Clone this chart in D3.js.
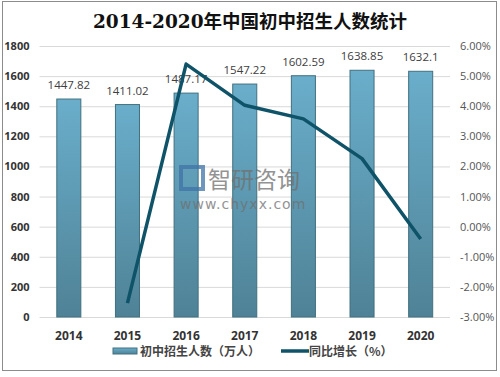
<!DOCTYPE html>
<html>
<head>
<meta charset="utf-8">
<script src="https://cdn.jsdelivr.net/npm/d3@7"></script>
<style>
  body { margin: 0; background: #fff; }
  svg { display: block; }
</style>
</head>
<body>
<svg id="chart" width="500" height="377"></svg>
<script>
const years = ["2014", "2015", "2016", "2017", "2018", "2019", "2020"];
const enrol = [1447.82, 1411.02, 1487.17, 1547.22, 1602.59, 1638.85, 1632.1];
const enrolLabels = ["1447.82", "1411.02", "1487.17", "1547.22", "1602.59", "1638.85", "1632.1"];
// year-on-year growth, % (no value for 2014)
const growth = [null, -2.54, 5.40, 4.03, 3.58, 2.26, -0.41];
const leftTicks = [0, 200, 400, 600, 800, 1000, 1200, 1400, 1600, 1800];
const rightTicks = [-3, -2, -1, 0, 1, 2, 3, 4, 5, 6];

const svg = d3.select("#chart");
const margin = {top: 46, right: 50, bottom: 60, left: 39.5};
const width = +svg.attr("width"), height = +svg.attr("height");

// outer frame
svg.append("rect")
  .attr("x", 2.5).attr("y", 1.5)
  .attr("width", 494).attr("height", 369)
  .attr("fill", "none").attr("stroke", "#8c8c8c").attr("stroke-width", 1);

svg.append("text")
  .attr("x", 250).attr("y", 28)
  .attr("text-anchor", "middle")
  .attr("font-family", "'DejaVu Serif', 'Noto Sans CJK SC', serif")
  .attr("font-size", 18.5)
  .attr("font-weight", "bold")
  .attr("fill", "#111")
  .text("2014-2020年中国初中招生人数统计");

x = d3.scaleBand()
  .domain(years)
  .range([margin.left, width - margin.right])
  .paddingInner(0.59).paddingOuter(0.295);

y = d3.scaleLinear().domain([0, 1800]).range([317, 46]);
y2 = d3.scaleLinear().domain([-3, 6]).range([317, 46]);

// gridlines
svg.append("g")
  .selectAll("line")
  .data(leftTicks)
  .enter().append("line")
  .attr("x1", margin.left).attr("x2", width - margin.right)
  .attr("y1", d => y(d) + 0.5).attr("y2", d => y(d) + 0.5)
  .attr("stroke", "#d9d9d9").attr("stroke-width", 1);

const defs = svg.append("defs");
const grad = defs.append("linearGradient")
  .attr("id", "barGrad").attr("x1", 0).attr("x2", 0).attr("y1", 0).attr("y2", 1);
grad.append("stop").attr("offset", "0%").attr("stop-color", "#6aaecb");
grad.append("stop").attr("offset", "100%").attr("stop-color", "#4f8296");

// bars
svg.append("g")
  .selectAll("rect")
  .data(enrol)
  .enter().append("rect")
  .attr("x", (d, i) => x(years[i]))
  .attr("y", d => y(d))
  .attr("width", x.bandwidth())
  .attr("height", d => y(0) - y(d))
  .attr("fill", "url(#barGrad)")
  .attr("stroke", "#41707f")
  .attr("stroke-width", 1);

// bar value labels
svg.append("g")
  .selectAll("text")
  .data(enrol)
  .enter().append("text")
  .attr("x", (d, i) => x(years[i]) + x.bandwidth() / 2)
  .attr("y", d => y(d) - 10)
  .attr("text-anchor", "middle")
  .attr("font-family", "'Open Sans', 'Noto Sans', sans-serif")
  .attr("font-size", 11.5)
  .attr("fill", "#404040")
  .text((d, i) => enrolLabels[i]);

// watermark
const wm = svg.append("g").attr("opacity", 0.75);
wm.append("rect").attr("x", 181).attr("y", 167).attr("width", 22).attr("height", 22)
  .attr("fill", "none").attr("stroke", "#3f73a8").attr("stroke-width", 4);
wm.append("text")
  .attr("x", 208).attr("y", 188)
  .attr("font-family", "'Noto Sans CJK SC', sans-serif")
  .attr("font-size", 23)
  .attr("fill", "#707070")
  .text("智研咨询");
wm.append("text")
  .attr("x", 180).attr("y", 209)
  .attr("font-family", "'DejaVu Sans', sans-serif")
  .attr("font-size", 14)
  .attr("letter-spacing", 1)
  .attr("fill", "#707070")
  .text("www.chyxx.com");

// growth line
const line = d3.line()
  .defined(d => d != null)
  .x((d, i) => x(years[i]) + x.bandwidth() / 2)
  .y(d => y2(d));
svg.append("path")
  .datum(growth)
  .attr("fill", "none")
  .attr("stroke", "#0f5369")
  .attr("stroke-width", 3.5)
  .attr("stroke-linejoin", "round")
  .attr("d", line);

// left axis
svg.append("g")
  .attr("transform", `translate(${margin.left - 6}, 0)`)
  .call(d3.axisLeft(y).tickValues(leftTicks).tickSize(0).tickPadding(4).tickFormat(d3.format("d")))
  .call(g => g.select(".domain").remove())
  .selectAll("text")
  .attr("font-family", "'Open Sans', 'Noto Sans', sans-serif")
  .attr("font-size", 11)
  .attr("font-weight", "bold")
  .attr("fill", "#333");

// right axis
svg.append("g")
  .attr("transform", `translate(${width - margin.right + 8}, 0)`)
  .call(d3.axisRight(y2).tickValues(rightTicks).tickSize(0).tickPadding(2)
    .tickFormat(d => d.toFixed(2) + "%"))
  .call(g => g.select(".domain").remove())
  .selectAll("text")
  .attr("font-family", "'Open Sans', 'Noto Sans', sans-serif")
  .attr("font-size", 11)
  .attr("fill", "#555");

// x axis
svg.append("g")
  .attr("transform", `translate(0, 317)`)
  .call(d3.axisBottom(x).tickSize(0).tickPadding(14))
  .call(g => g.select(".domain").remove())
  .selectAll("text")
  .attr("font-family", "'Open Sans', 'Noto Sans', sans-serif")
  .attr("font-size", 12)
  .attr("font-weight", "bold")
  .attr("fill", "#333");

// legend
const lg = svg.append("g");
lg.append("rect").attr("x", 113).attr("y", 348).attr("width", 24).attr("height", 6)
  .attr("fill", "url(#barGrad)").attr("stroke", "#41707f");
lg.append("text").attr("x", 140).attr("y", 356)
  .attr("font-family", "'Noto Sans CJK SC', sans-serif")
  .attr("font-size", 12).attr("font-weight", "bold").attr("fill", "#444")
  .text("初中招生人数（万人）");
lg.append("line").attr("x1", 281).attr("x2", 309).attr("y1", 351).attr("y2", 351)
  .attr("stroke", "#0f5369").attr("stroke-width", 3.5);
lg.append("text").attr("x", 309).attr("y", 356)
  .attr("font-family", "'Noto Sans CJK SC', sans-serif")
  .attr("font-size", 12).attr("font-weight", "bold").attr("fill", "#444")
  .text("同比增长（%）");
</script>
</body>
</html>
